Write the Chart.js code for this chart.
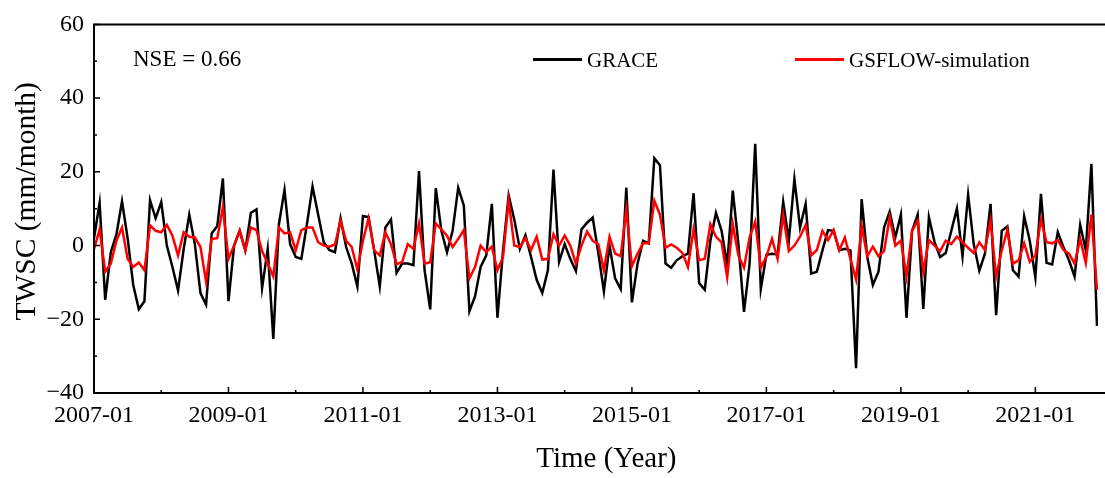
<!DOCTYPE html>
<html>
<head>
<meta charset="utf-8">
<style>
  html, body { margin: 0; padding: 0; background: #fff; }
  canvas { display: block; }
</style>
</head>
<body>
<canvas id="twscChart" width="1105" height="478"></canvas>
<script src="https://cdn.jsdelivr.net/npm/chart.js@4.4.1/dist/chart.umd.min.js"></script>
<script>
/* monthly categories 2007-01 .. 2021-12 */
const startYear = 2007;
const endYear = 2021;
const months = [];
for (let y = startYear; y <= endYear; y++) {
  for (let m = 1; m <= 12; m++) {
    months.push(y + '-' + (m < 10 ? '0' + m : m));
  }
}

const xTickLabels = ['2007-01', '2009-01', '2011-01', '2013-01', '2015-01', '2017-01', '2019-01', '2021-01'];

/* TWSC (mm/month) */
const grace = [
  2, 11.6, -14.7, -1.8, 3, 12, 2, -10.7, -17.3, -15.1,
  12.3, 7.4, 11.8, 0, -5.8, -12.2, -1, 8.4, 0.4, -12.9,
  -16, 3.3, 5.3, 18.2, -15.1, 0, 4, -1.3, 8.9, 9.8,
  -11.5, -0.9, -25.3, 5.8, 15.1, 0.4, -3.1, -3.6, 5.8, 16,
  8.4, 0.9, -1.2, -1.8, 7.4, -0.4, -4.9, -11.1, 8, 7.7,
  -1.3, -11.1, 4.9, 7.1, -7.4, -4.9, -4.9, -5.3, 20.2, -6.7,
  -17.3, 15.6, 4, -1.8, 4, 15.7, 10.9, -17.8, -13.8, -5.8,
  -2.7, 11.3, -19.6, -1.3, 13.6, 7.1, -0.9, 2.8, -3.1, -9.3,
  -12.9, -6.7, 20.6, -4.4, 0.4, -3.6, -6.9, 4.4, 6.2, 7.6,
  -2, -12.4, 0, -8.9, -11.8, 15.7, -15.4, -4.9, 1.3, 0.6,
  23.7, 21.8, -4.9, -6, -4, -2.9, -2.2, 14.2, -10.2, -12,
  1.3, 8.9, 4, -5.3, 14.9, 0.4, -18, -4.9, 27.6, -11.8,
  -2.5, -2.2, -2.4, 11.8, 1.3, 18, 4.9, 11.3, -7.6, -7.1,
  -1.3, 4.2, 4, -1.3, -0.9, -1.3, -33.3, 12.6, -3.1, -10.7,
  -7.1, 4.9, 9.2, 2.2, 8.4, -19.6, 4, 8.4, -17.2, 7.7,
  1, -3.1, -2, 4, 10, -2.9, 13.8, 0.4, -6.8, -2.2,
  11.3, -18.9, 4, 5.2, -6.7, -8.4, 8, 1.3, -8.6, 14,
  -4.7, -5.1, 3.6, -0.4, -4, -8.4, 5.6, -1.3, 22.2, -21.8
];

const gsflow = [
  -1, 4.4, -7.1, -4.9, 1.3, 4.9, -3.6, -5.8, -4.6, -6.7,
  5.5, 4, 3.6, 5.6, 2.7, -2.7, 3.6, 2.4, 2.2, -0.4,
  -9.8, 1.8, 2, 10.4, -3.6, 0, 4, -1.3, 4.9, 4.2,
  -1.5, -4.9, -8.4, 4.9, 3.3, 3.6, -1.3, 4.2, 4.9, 4.9,
  0.9, 0, -0.3, 0.3, 6.7, 1.3, -0.4, -6.5, 1.3, 7.4,
  -1.3, -2.7, 3.6, 0.4, -5.1, -4.4, 0.4, -0.9, 6, -4.9,
  -4.5, 6, 4.4, 2.7, -0.4, 1.8, 4.2, -8.9, -5.8, 0,
  -1.8, -0.3, -6.7, -3.1, 12.2, 0, -0.4, 2, -1.2, 2.4,
  -3.8, -3.6, 3.1, 0, 2.7, 0, -4.9, 0, 3.8, 1.3,
  0.4, -6.7, 2.4, -2.2, -2.9, 9.8, -5.6, -2.2, 0.6, 0.6,
  12.2, 8.4, -0.6, 0.3, -0.6, -2, -5.8, 4.4, -4, -3.6,
  5.8, 2.4, 0.9, -8.6, 5.8, -2.7, -6, 2.2, 6.5, -6,
  -3, 1.8, -3.6, 8.3, -1.5, 0, 2.4, 5.6, -2.7, -1.2,
  4, 1.5, 4.2, -1.3, 2.2, -3.6, -9.2, 5.3, -2.9, -0.3,
  -2.9, -1.5, 7.7, 0, 1.3, -8.4, 4, 6.7, -7.1, 1.5,
  0, -1.5, 1.3, 0.4, 2.4, 0.9, -0.6, -2, 0.9, -1.2,
  6.8, -8.4, -1.3, 4.2, -4.9, -4, 0.6, -4.4, -2.7, 7.1,
  0.9, 0.6, 1.5, -1.2, -2.2, -4.9, 1.8, -4.7, 8.4, -12
];

const nseText = 'NSE = 0.66';

const serif = "'Liberation Serif', 'Times New Roman', serif";

/* frame, inward ticks, NSE note and legend */
const decorations = {
  id: 'decorations',
  afterDraw(chart) {
    const ctx = chart.ctx;
    const area = chart.chartArea;
    const xs = chart.scales.x;
    const ys = chart.scales.y;
    ctx.save();

    ctx.strokeStyle = '#000';
    ctx.lineWidth = 2;
    ctx.beginPath();
    ctx.moveTo(chart.width, area.top);
    ctx.lineTo(area.left, area.top);
    ctx.lineTo(area.left, area.bottom);
    ctx.lineTo(chart.width, area.bottom);
    ctx.stroke();

    ctx.lineWidth = 1.5;
    ctx.beginPath();
    months.forEach(function(m, i) {
      if (i % 12 !== 0) return;
      const px = xs.getPixelForValue(i);
      const len = xTickLabels.includes(m) ? 6 : 3;
      ctx.moveTo(px, area.bottom);
      ctx.lineTo(px, area.bottom - len);
    });
    for (let v = ys.min; v <= ys.max; v += 10) {
      const py = ys.getPixelForValue(v);
      const len = v % 20 === 0 ? 6 : 3;
      ctx.moveTo(area.left, py);
      ctx.lineTo(area.left + len, py);
    }
    ctx.stroke();

    ctx.fillStyle = '#000';
    ctx.textBaseline = 'alphabetic';
    ctx.textAlign = 'left';
    ctx.font = '23px ' + serif;
    ctx.fillText(nseText, 133, 66);

    const legendX = [533, 795];
    ctx.font = '21px ' + serif;
    chart.data.datasets.forEach(function(ds, i) {
      ctx.strokeStyle = ds.borderColor;
      ctx.lineWidth = 3;
      ctx.beginPath();
      ctx.moveTo(legendX[i], 59.5);
      ctx.lineTo(legendX[i] + 49, 59.5);
      ctx.stroke();
      ctx.fillText(ds.label, legendX[i] + 54, 67);
    });

    ctx.restore();
  }
};

new Chart(document.getElementById('twscChart'), {
  type: 'line',
  data: {
    labels: months,
    datasets: [{
      label: 'GRACE',
      data: grace,
      borderColor: '#000000',
      borderWidth: 2.5,
      pointRadius: 0,
      tension: 0,
      order: 2
    },
    {
      label: 'GSFLOW-simulation',
      data: gsflow,
      borderColor: '#ff0000',
      borderWidth: 2.5,
      pointRadius: 0,
      tension: 0,
      order: 1
    }]
  },
  options: {
    responsive: false,
    animation: false,
    layout: { padding: { top: 20, right: 1, left: 0, bottom: 0 } },
    plugins: {
      legend: { display: false },
      tooltip: { enabled: false }
    },
    scales: {
      x: {
        type: 'category',
        grid: { display: false, drawTicks: false },
        border: { display: false },
        ticks: {
          autoSkip: false,
          maxRotation: 0,
          padding: 8,
          color: '#000',
          font: { family: serif, size: 24 },
          callback: function(v, i) {
            return xTickLabels.includes(months[i]) ? months[i] : '';
          }
        },
        title: {
          display: true,
          // leading spaces nudge the title right, as in the original figure
          text: '   Time (Year)',
          color: '#000',
          font: { family: serif, size: 29 },
          padding: { top: 0, bottom: 1 }
        },
        afterFit: function(scale) { scale.height = 85; }
      },
      y: {
        min: -40,
        max: 60,
        grid: { display: false, drawTicks: false },
        border: { display: false },
        ticks: {
          stepSize: 10,
          padding: 10,
          color: '#000',
          font: { family: serif, size: 24 },
          callback: function(v) {
            if (v % 20 !== 0) return '';
            return v < 0 ? '\u2212' + Math.abs(v) : String(v);
          }
        },
        title: {
          display: true,
          text: '  TWSC (mm/month)',
          color: '#000',
          font: { family: serif, size: 29.5 },
          padding: { top: 10, bottom: 0 }
        },
        afterFit: function(scale) { scale.width = 94; }
      }
    }
  },
  plugins: [decorations]
});
</script>
</body>
</html>
